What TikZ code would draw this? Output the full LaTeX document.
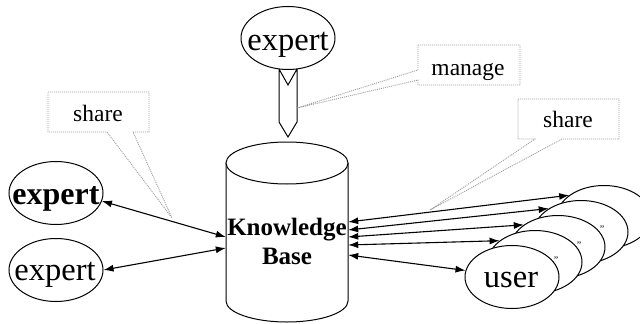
\documentclass[tikz,border=0pt]{standalone}
\usepackage{fontspec}
\setmainfont{Liberation Serif}
\usetikzlibrary{shapes.geometric,arrows.meta,calc}

\begin{document}
\begin{tikzpicture}[x=1pt,y=-1pt,
  every node/.style={inner sep=0pt},
  actor/.style={ellipse, draw, fill=white, line width=1pt,
    minimum width=94pt, minimum height=63pt},
  bigtext/.style={font=\fontsize{32.5}{38}\selectfont, anchor=base},
  link/.style={line width=1.1pt,
    {Latex[length=10pt,width=7pt]}-{Latex[length=10pt,width=7pt]}},
  callout/.style={draw=gray!75, dash pattern=on 1pt off 1pt, line width=0.9pt},
  note/.style={font=\fontsize{23.5}{27}\selectfont, anchor=base},
  tick/.style={font=\fontsize{10}{11}\selectfont},
  store/.style={line width=1pt, fill=white},
]
\fill[white] (0,0) rectangle (640,324);
\useasboundingbox (0,0) rectangle (640,324);

% knowledge base cylinder
\node[minimum width=122pt, minimum height=180pt] (kb) at (287,232) {};
\draw[store] (226,163) -- (226,301)
  arc[start angle=180, end angle=360, x radius=61pt, y radius=21pt]
  -- (348,163);
\draw[store] (287,163) ellipse[x radius=61pt, y radius=21pt];
\node[font=\bfseries\fontsize{25}{29}\selectfont, align=center] (kbl) at (287,241) {Knowledge\\Base};

% managing expert with its block arrow
\draw[store] (279,69) -- (288,85) -- (297,69) -- (297,122) -- (288,137) -- (279,122) -- cycle;
\node[actor] (et) at (288,38) {};
\node[bigtext] (etl) at (288,50) {expert};

% sharing experts
\node[actor] (e1) at (56,193) {};
\node[bigtext, font=\bfseries\fontsize{32}{38}\selectfont] (e1l) at (56,204) {expert};
\node[actor] (e2) at (56,270) {};
\node[bigtext] (e2l) at (55,280) {expert};

% stack of users, back to front
\node[actor] (u4) at (604,217) {};
\node[actor] (u3) at (581,232) {};
\node[actor] (u2) at (558,247) {};
\node[actor] (u1) at (535,262) {};
\node[actor] (u0) at (512,277) {};
\node[bigtext] (u0l) at (511,287) {user};
\node[tick] (m1) at ($(u1.center)+(21,-2)$) {''};
\node[tick] (m2) at ($(u2.center)+(21,-2)$) {''};
\node[tick] (m3) at ($(u3.center)+(21,-3)$) {''};

% connectors
\draw[link] (e1.-10) -- ([yshift=-5pt]kb.west);
\draw[link] (e2.east) -- ([yshift=-16pt]kb.west);
\draw[link] ([yshift=10pt]kb.east) -- (u4.148);
\draw[link] ([yshift=2pt]kb.east) -- (u3.144);
\draw[link] ([yshift=-5pt]kb.east) -- (u2.147);
\draw[link] ([yshift=-13pt]kb.east) -- (u1.149);
\draw[link] ([yshift=-23pt]kb.east) -- (u0.172);

% callouts
\coordinate (t1) at (172,218);
\coordinate (t2) at (297,108);
\coordinate (t3) at (430,210);
\node[note] (s1) at (98,121) {share};
\draw[callout] (48,92) -- (149,92) -- (149,132) -- (133,132) -- (t1) -- (107,132) -- (48,132) -- cycle;
\node[note] (mg) at (468,75) {manage};
\draw[callout] (418,45) -- (520,45) -- (520,85) -- (418,85) -- (418,80) -- (t2) -- (418,70) -- cycle;
\node[note] (s2) at (568,127) {share};
\draw[callout] (518,99) -- (619,99) -- (619,139) -- (562,139) -- (t3) -- (535,139) -- (518,139) -- cycle;
\end{tikzpicture}
\end{document}
